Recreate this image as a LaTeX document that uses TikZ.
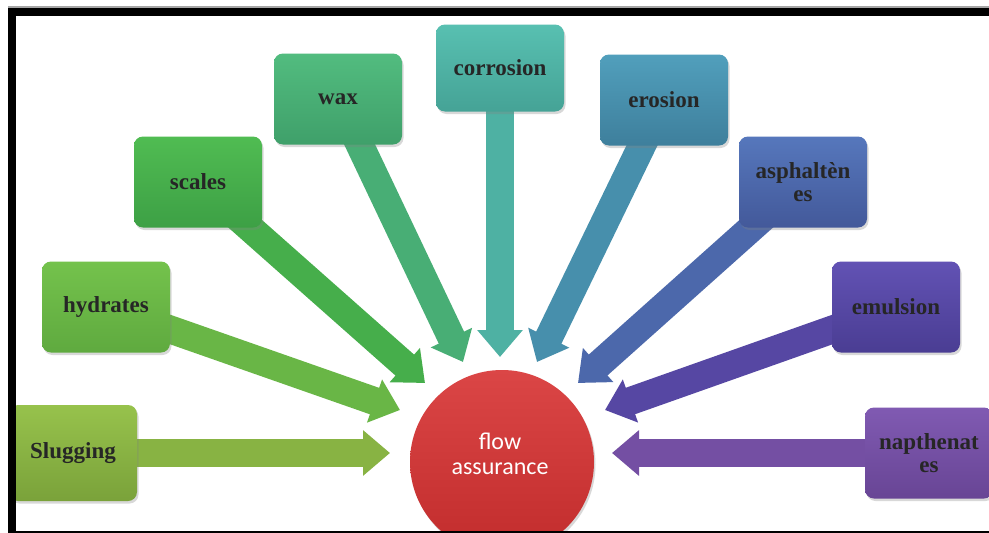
\documentclass[tikz,border=0pt]{standalone}
\usepackage{fontspec}
\setmainfont{Liberation Serif}
\newfontfamily\calib{Carlito}
\usetikzlibrary{arrows.meta,shadows,backgrounds}
\definecolor{cSa}{HTML}{97C24C}\definecolor{cSb}{HTML}{7AA23A}\definecolor{cS}{HTML}{88B343}
\definecolor{cHa}{HTML}{74C24C}\definecolor{cHb}{HTML}{5FAA3F}\definecolor{cH}{HTML}{69B646}
\definecolor{cCa}{HTML}{50BC52}\definecolor{cCb}{HTML}{3DA045}\definecolor{cC}{HTML}{46AE4B}
\definecolor{cWa}{HTML}{52BC7F}\definecolor{cWb}{HTML}{3FA06A}\definecolor{cW}{HTML}{48AE75}
\definecolor{cRa}{HTML}{58C0B1}\definecolor{cRb}{HTML}{45A396}\definecolor{cR}{HTML}{4EB1A3}
\definecolor{cEa}{HTML}{519FBC}\definecolor{cEb}{HTML}{3E7F9C}\definecolor{cE}{HTML}{478FAC}
\definecolor{cAa}{HTML}{5677BC}\definecolor{cAb}{HTML}{43599A}\definecolor{cA}{HTML}{4C68AB}
\definecolor{cMa}{HTML}{6252B4}\definecolor{cMb}{HTML}{4A3D93}\definecolor{cM}{HTML}{5647A3}
\definecolor{cNa}{HTML}{805AB2}\definecolor{cNb}{HTML}{684595}\definecolor{cN}{HTML}{744FA3}
\definecolor{cFa}{HTML}{DB4646}\definecolor{cFb}{HTML}{C12C2C}
\begin{document}
\begin{tikzpicture}[x=1pt,y=-1pt,
  box/.style={rounded corners=9pt, minimum width=128pt, minimum height=91pt,
    inner sep=2pt, align=center, text=black!85,
    font=\fontsize{23}{23}\selectfont\bfseries,
    drop shadow={shadow xshift=1.5pt,shadow yshift=-2.5pt,opacity=0.3}},
  arr/.style={line width=28pt, -{Triangle[length=27pt,width=44pt]}},
]
\useasboundingbox (0,0) rectangle (989,533);
% boxes
\node[box, top color=cSa, bottom color=cSb, minimum height=96pt] (s) at (73,453) {Slugging};
\node[box, top color=cHa, bottom color=cHb] (h) at (106,307) {hydrates};
\node[box, top color=cCa, bottom color=cCb] (sc) at (198,182) {scales};
\node[box, top color=cWa, bottom color=cWb] (w) at (338,99) {wax};
\node[box, top color=cRa, bottom color=cRb, minimum height=87pt] (c) at (500,68) {corrosion};
\node[box, top color=cEa, bottom color=cEb] (e) at (664,100) {erosion};
\node[box, top color=cAa, bottom color=cAb] (a) at (803,182) {asphaltèn\\es};
\node[box, top color=cMa, bottom color=cMb] (m) at (896,307) {emulsion};
\node[box, top color=cNa, bottom color=cNb] (n) at (929,453) {napthenat\\es};
% centre
\node[circle, minimum size=184pt, inner sep=0pt, top color=cFa, bottom color=cFb,
  align=center, text=white, font=\calib\fontsize{24}{25}\selectfont,
  drop shadow={shadow xshift=1.5pt,shadow yshift=-2.5pt,opacity=0.3}] (fa) at (502,462) {};
\node[align=center, text=white, font=\calib\fontsize{24}{25}\selectfont] (fat) at (500,454) {flow\\assurance};
% tips
\coordinate (tS) at (390,453);
\coordinate (tH) at (400,410);
\coordinate (tSc) at (425,383);
\coordinate (tW) at (463,362);
\coordinate (tC) at (500,357);
\coordinate (tE) at (537,362);
\coordinate (tA) at (578,383);
\coordinate (tM) at (605,410);
\coordinate (tN) at (612,453);
\begin{scope}[on background layer]
\fill[white] (0,0) rectangle (989,533);
\draw[arr, cS] (s.center) -- (tS);
\draw[arr, cH] (h.center) -- (tH);
\draw[arr, cC] (sc.center) -- (tSc);
\draw[arr, cW] (w.center) -- (tW);
\draw[arr, cR] (c.center) -- (tC);
\draw[arr, cE] (e.center) -- (tE);
\draw[arr, cA] (a.center) -- (tA);
\draw[arr, cM] (m.center) -- (tM);
\draw[arr, cN] (n.center) -- (tN);
\end{scope}
% frame
\fill[black!35] (8,6) rectangle (989,7.5);
\fill[black] (8,7.5) rectangle (989,15.5);
\fill[black] (8,7.5) rectangle (16,533);
\fill[black] (8,531) rectangle (989,533);
\end{tikzpicture}
\end{document}
